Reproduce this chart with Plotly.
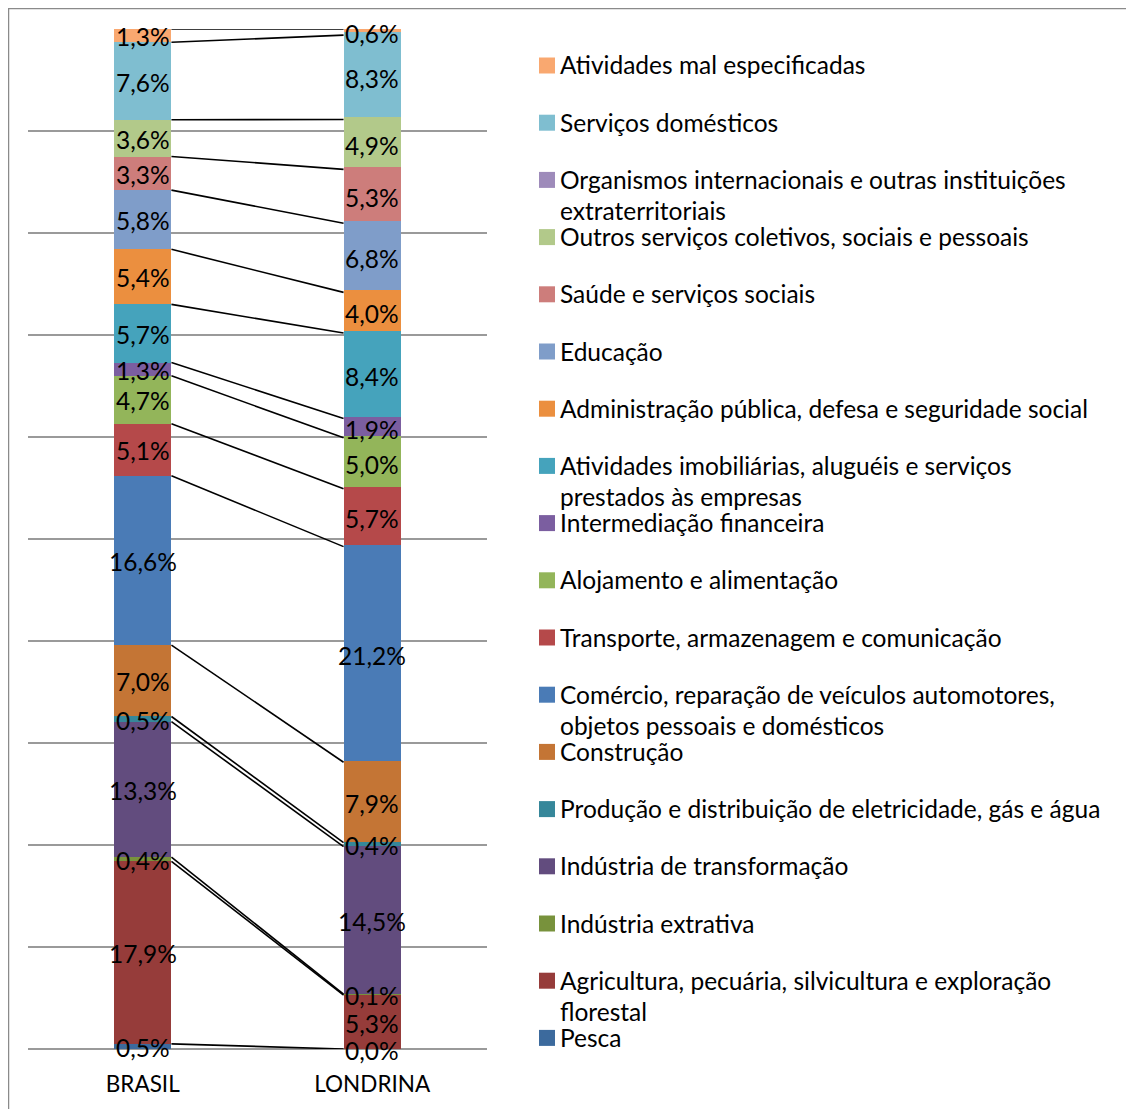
import plotly.graph_objects as go

categories = ["BRASIL", "LONDRINA"]

# Stack order: bottom to top
sectors = [
    "Pesca",
    "Agricultura, pecuária, silvicultura e exploração<br>florestal",
    "Indústria extrativa",
    "Indústria de transformação",
    "Produção e distribuição de eletricidade, gás e água",
    "Construção",
    "Comércio, reparação de veículos automotores,<br>objetos pessoais e domésticos",
    "Transporte, armazenagem e comunicação",
    "Alojamento e alimentação",
    "Intermediação financeira",
    "Atividades imobiliárias, aluguéis e serviços<br>prestados às empresas",
    "Administração pública, defesa e seguridade social",
    "Educação",
    "Saúde e serviços sociais",
    "Outros serviços coletivos, sociais e pessoais",
    "Organismos internacionais e outras instituições<br>extraterritoriais",
    "Serviços domésticos",
    "Atividades mal especificadas",
]

brasil = [0.5, 17.9, 0.4, 13.3, 0.5, 7.0, 16.6, 5.1, 4.7, 1.3, 5.7, 5.4, 5.8, 3.3, 3.6, None, 7.6, 1.3]
londrina = [0.0, 5.3, 0.1, 14.5, 0.4, 7.9, 21.2, 5.7, 5.0, 1.9, 8.4, 4.0, 6.8, 5.3, 4.9, None, 8.3, 0.6]

colors = [
    "#3C6A9D", "#963C3A", "#78923C", "#624C7E", "#36879A", "#C47535",
    "#4A7BB6", "#B5494A", "#93B55A", "#7B5EA0", "#45A3BC", "#EB8F3F",
    "#7F9DC9", "#CD7D7B", "#B2C98A", "#9E8BBA", "#7FBED0", "#F9A870",
]

FONT = "Lato"
FS = 24.5
BAR_W = 0.25
xpos = [0, 1]

series = [brasil, londrina]
totals = [sum(v for v in s if v is not None) for s in series]

# Geometry in page pixels (figure placed at page offset 8,8)
OFF = 8
W, H = 1134 - OFF, 1109 - OFF
L, R, T, B = 28, 487, 29, 1049
pw, ph = R - L, B - T

fig = go.Figure()
annotations = []
shapes = []

# Stacked bars (normalized to 100%)
for i, name in enumerate(sectors):
    fig.add_trace(go.Bar(
        x=xpos,
        y=[brasil[i] or 0, londrina[i] or 0],
        width=BAR_W,
        marker=dict(color=colors[i], line=dict(width=0)),
        name=name,
        showlegend=False,
        hoverinfo="skip",
    ))

# Cumulative tops (normalized) for series lines and data labels
cum = [0.0, 0.0]
for i, name in enumerate(sectors):
    tops = []
    for j in range(2):
        v = series[j][i]
        vv = (v or 0) / totals[j] * 100
        mid = cum[j] + vv / 2
        cum[j] += vv
        tops.append(cum[j])
        if v is not None:
            annotations.append(dict(
                xref="x", yref="y", x=xpos[j], y=mid,
                text=f"{v:.1f}".replace(".", ",") + "%",
                showarrow=False, xanchor="center", yanchor="middle",
                yshift=-1,
                font=dict(family=FONT, size=FS, color="black"),
            ))
    if brasil[i] is not None:
        fig.add_trace(go.Scatter(
            x=[xpos[0] + BAR_W / 2, xpos[1] - BAR_W / 2],
            y=tops,
            mode="lines",
            line=dict(color="black", width=1.6),
            showlegend=False,
            hoverinfo="skip",
            cliponaxis=False,
        ))

def px_x(p):
    return (p - L) / pw

def px_y(p):
    return (B - p) / ph

# Custom legend: top item is last series
n = len(sectors)
for k in range(n):
    i = n - 1 - k
    yc = 65 + k * 57.2
    shapes.append(dict(
        type="rect", xref="paper", yref="paper",
        x0=px_x(539), x1=px_x(555), y0=px_y(yc + 8.5), y1=px_y(yc - 7.5),
        fillcolor=colors[i], line=dict(width=0),
    ))
    for li, line in enumerate(sectors[i].split("<br>")):
        annotations.append(dict(
            xref="paper", yref="paper",
            x=px_x(558), y=px_y(yc + li * 31.5),
            xanchor="left", yanchor="middle",
            text=line, showarrow=False,
            font=dict(family=FONT, size=FS, color="black"),
        ))

# Outer chart border
shapes.append(dict(
    type="rect", xref="paper", yref="paper",
    x0=px_x(8.5), x1=px_x(1200), y0=px_y(1200), y1=px_y(8.5),
    line=dict(color="#8A8A8A", width=1.5), fillcolor="rgba(0,0,0,0)",
    layer="below",
))

fig.update_layout(
    width=W, height=H,
    margin=dict(l=L - OFF, r=(W + OFF) - R, t=T - OFF, b=(H + OFF) - B, pad=0),
    barmode="stack",
    bargap=0,
    plot_bgcolor="white",
    paper_bgcolor="white",
    font=dict(family=FONT, size=FS, color="black"),
    annotations=annotations,
    shapes=shapes,
    xaxis=dict(
        range=[-0.5, 1.5],
        tickvals=xpos, ticktext=categories,
        showgrid=False, zeroline=False, showline=False,
        ticks="", tickfont=dict(family=FONT, size=22.5, color="black"),
        ticklabelstandoff=19,
        fixedrange=True,
    ),
    yaxis=dict(
        range=[0, 100], dtick=10, tick0=0,
        showticklabels=False, ticks="",
        showgrid=True, gridcolor="#9A9A9A", gridwidth=1.5,
        zeroline=True, zerolinecolor="#9A9A9A", zerolinewidth=1.5,
        showline=False,
        fixedrange=True,
    ),
)

fig.write_html("out.html")
